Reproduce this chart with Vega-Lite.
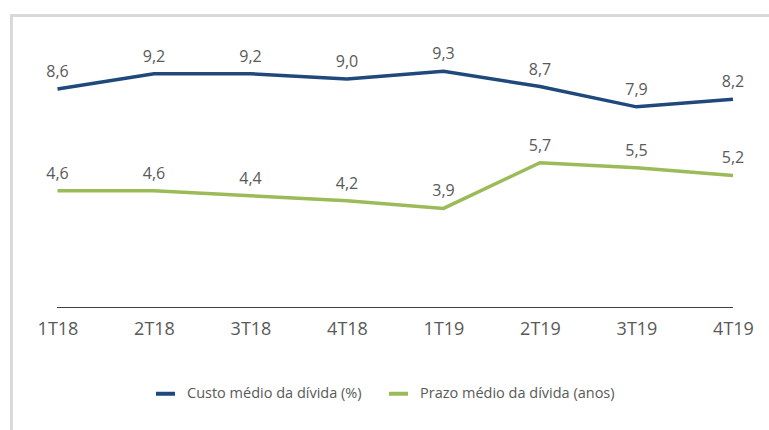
{
  "$schema": "https://vega.github.io/schema/vega-lite/v6.json",
  "width": 758,
  "height": 415,
  "autosize": {"type": "none"},
  "padding": {"left": 11, "top": 15, "right": 0, "bottom": 0},
  "background": "white",
  "config": {
    "view": {"stroke": null},
    "font": "Open Sans",
    "locale": {"number": {"decimal": ",", "thousands": ".", "grouping": [3], "currency": ["R$", ""]}}
  },
  "data": {
    "values": [
      {"trimestre": "1T18", "serie": "Custo médio da dívida (%)", "valor": 8.6},
      {"trimestre": "2T18", "serie": "Custo médio da dívida (%)", "valor": 9.2},
      {"trimestre": "3T18", "serie": "Custo médio da dívida (%)", "valor": 9.2},
      {"trimestre": "4T18", "serie": "Custo médio da dívida (%)", "valor": 9.0},
      {"trimestre": "1T19", "serie": "Custo médio da dívida (%)", "valor": 9.3},
      {"trimestre": "2T19", "serie": "Custo médio da dívida (%)", "valor": 8.7},
      {"trimestre": "3T19", "serie": "Custo médio da dívida (%)", "valor": 7.9},
      {"trimestre": "4T19", "serie": "Custo médio da dívida (%)", "valor": 8.2},
      {"trimestre": "1T18", "serie": "Prazo médio da dívida (anos)", "valor": 4.6},
      {"trimestre": "2T18", "serie": "Prazo médio da dívida (anos)", "valor": 4.6},
      {"trimestre": "3T18", "serie": "Prazo médio da dívida (anos)", "valor": 4.4},
      {"trimestre": "4T18", "serie": "Prazo médio da dívida (anos)", "valor": 4.2},
      {"trimestre": "1T19", "serie": "Prazo médio da dívida (anos)", "valor": 3.9},
      {"trimestre": "2T19", "serie": "Prazo médio da dívida (anos)", "valor": 5.7},
      {"trimestre": "3T19", "serie": "Prazo médio da dívida (anos)", "valor": 5.5},
      {"trimestre": "4T19", "serie": "Prazo médio da dívida (anos)", "valor": 5.2}
    ]
  },
  "encoding": {
    "y": {
      "field": "valor",
      "type": "quantitative",
      "scale": {"domain": [-4.823, 11.516], "nice": false, "zero": false},
      "axis": {
        "orient": "left",
        "domainColor": "#d9d9d9",
        "domainWidth": 3,
        "domainCap": "square",
        "ticks": false,
        "labels": false,
        "grid": false,
        "title": null
      }
    }
  },
  "layer": [
    {
      "mark": {"type": "line", "strokeWidth": 3.5},
      "encoding": {
        "x": {
          "field": "trimestre",
          "type": "ordinal",
          "sort": null,
          "scale": {
            "type": "point",
            "domain": ["1T18", "2T18", "3T18", "4T18", "1T19", "2T19", "3T19", "4T19"],
            "padding": 0.4275,
            "align": 0.5636
          },
          "axis": {
            "orient": "top",
            "domainColor": "#d9d9d9",
            "domainWidth": 3,
            "domainCap": "square",
            "ticks": false,
            "labels": false,
            "grid": false,
            "title": null
          }
        },
        "color": {
          "field": "serie",
          "type": "nominal",
          "scale": {
            "domain": ["Custo médio da dívida (%)", "Prazo médio da dívida (anos)"],
            "range": ["#1F497D", "#9BBB59"]
          },
          "legend": {
            "orient": "none",
            "legendX": 143,
            "legendY": 367,
            "direction": "horizontal",
            "title": null,
            "symbolType": "stroke",
            "symbolStrokeWidth": 4,
            "symbolSize": 361,
            "labelFontSize": 14.5,
            "labelColor": "#595959",
            "labelFont": "Open Sans",
            "labelLimit": 400,
            "columnPadding": 19,
            "labelOffset": 10,
            "padding": 0
          }
        }
      }
    },
    {
      "mark": {"type": "text", "dy": -12, "baseline": "alphabetic", "fontSize": 16, "color": "#595959"},
      "encoding": {
        "x": {
          "field": "trimestre",
          "type": "ordinal",
          "sort": null,
          "axis": {
            "orient": "bottom",
            "offset": -122.5,
            "domain": false,
            "ticks": false,
            "grid": false,
            "labelPadding": 26.5,
            "labelBaseline": "alphabetic",
            "labelFontSize": 18,
            "labelColor": "#595959",
            "labelAngle": 0,
            "title": null
          }
        },
        "text": {"field": "valor", "type": "quantitative", "format": ".1f"}
      }
    },
    {
      "mark": {"type": "rule", "color": "#404040", "strokeWidth": 1.2},
      "encoding": {
        "x": {"datum": "1T18", "type": "ordinal", "axis": null},
        "x2": {"datum": "4T19"},
        "y": {"datum": 0, "type": "quantitative"}
      }
    }
  ],
  "resolve": {"axis": {"x": "independent"}}
}
